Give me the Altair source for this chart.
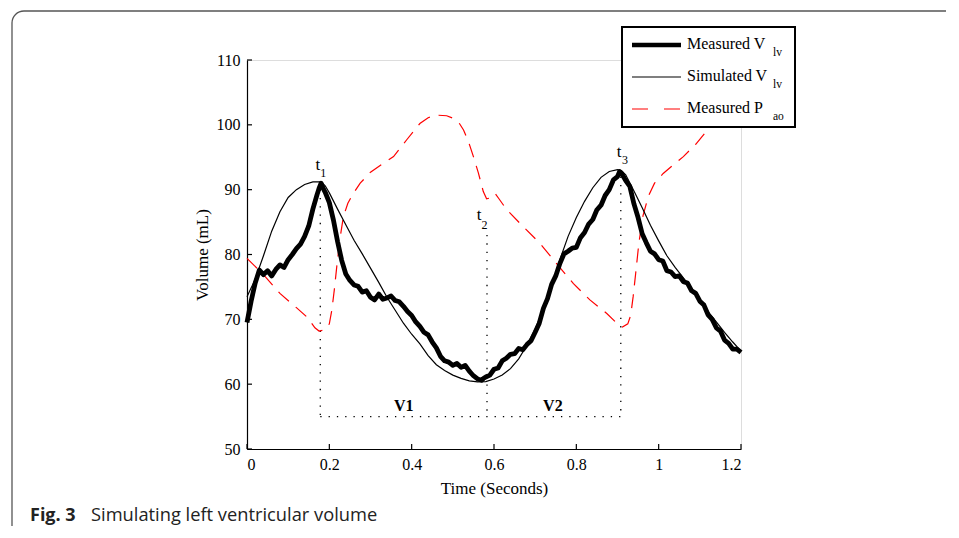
import altair as alt
import pandas as pd

# ---------------- data ----------------
meas_t = [0.00, 0.01, 0.02, 0.03, 0.04, 0.05, 0.06, 0.07, 0.08, 0.09, 0.10, 0.11, 0.12, 0.13, 0.14, 0.15,
          0.16, 0.17, 0.175, 0.18, 0.185, 0.19, 0.20, 0.21, 0.22, 0.23, 0.24, 0.25, 0.26, 0.27, 0.28, 0.29,
          0.30, 0.31, 0.32, 0.33, 0.34, 0.35, 0.36, 0.37, 0.38, 0.39, 0.40, 0.41, 0.42, 0.43, 0.44, 0.45,
          0.46, 0.47, 0.48, 0.49, 0.50, 0.51, 0.52, 0.53, 0.54, 0.55, 0.56, 0.57, 0.575, 0.58, 0.59, 0.60,
          0.61, 0.62, 0.63, 0.64, 0.65, 0.66, 0.67, 0.68, 0.69, 0.70, 0.71, 0.72, 0.73, 0.74, 0.75, 0.76,
          0.77, 0.78, 0.79, 0.80, 0.81, 0.82, 0.83, 0.84, 0.85, 0.86, 0.87, 0.88, 0.89, 0.90, 0.905, 0.91,
          0.92, 0.93, 0.94, 0.95, 0.96, 0.97, 0.98, 0.99, 1.00, 1.01, 1.02, 1.03, 1.04, 1.05, 1.06, 1.07,
          1.08, 1.09, 1.10, 1.11, 1.12, 1.13, 1.14, 1.15, 1.16, 1.17, 1.18, 1.19, 1.20]
meas_v = [69.5, 72.8, 75.6, 77.6, 76.9, 77.5, 76.7, 77.7, 78.4, 78.0, 79.2, 80.0, 80.9, 81.6, 82.8, 84.4,
          87.0, 89.2, 90.2, 91.0, 90.2, 89.6, 88.0, 85.3, 82.0, 79.1, 77.0, 76.0, 75.3, 75.1, 74.2, 74.4,
          73.4, 73.0, 73.9, 73.1, 73.3, 73.6, 72.9, 72.7, 72.0, 71.2, 70.6, 69.6, 68.9, 68.0, 67.6, 66.5,
          65.6, 64.3, 63.6, 63.4, 62.9, 63.2, 62.6, 62.9, 62.0, 61.3, 60.8, 60.6, 60.9, 61.1, 61.4, 62.3,
          62.5, 63.6, 64.0, 64.6, 64.7, 65.5, 65.3, 66.1, 66.7, 68.0, 69.4, 71.7, 73.2, 75.4, 76.7, 78.6,
          80.1, 80.5, 81.0, 81.1, 82.6, 83.4, 84.7, 85.4, 86.9, 87.6, 89.1, 90.0, 91.5, 92.0, 92.8, 92.5,
          91.4, 90.5, 87.8, 85.7, 83.2, 81.8, 80.5, 80.1, 79.2, 79.0, 77.5, 77.3, 76.6, 76.7, 75.8, 75.6,
          74.4, 74.0, 72.8, 72.2, 70.7, 70.0, 68.7, 68.2, 66.8, 66.3, 65.4, 65.4, 64.9]

sim_t = [0.00, 0.02, 0.04, 0.06, 0.08, 0.10, 0.12, 0.14, 0.16, 0.18, 0.19, 0.20, 0.22, 0.24, 0.26, 0.28,
         0.30, 0.32, 0.34, 0.36, 0.38, 0.40, 0.42, 0.44, 0.46, 0.48, 0.50, 0.52, 0.54, 0.56, 0.58, 0.60,
         0.62, 0.64, 0.66, 0.68, 0.70, 0.72, 0.74, 0.76, 0.78, 0.80, 0.82, 0.84, 0.86, 0.88, 0.90, 0.91,
         0.92, 0.94, 0.96, 0.98, 1.00, 1.02, 1.04, 1.06, 1.08, 1.10, 1.12, 1.14, 1.16, 1.18, 1.20]
sim_v = [73.5, 76.2, 79.8, 83.6, 86.6, 88.8, 90.0, 90.8, 91.2, 91.2, 90.6, 89.5, 87.0, 84.6, 82.2, 80.1,
         77.9, 75.7, 73.4, 71.4, 69.4, 67.7, 66.2, 64.4, 63.0, 62.1, 61.4, 60.9, 60.5, 60.35, 60.4, 60.8,
         61.4, 62.4, 63.9, 66.0, 68.5, 71.5, 75.2, 79.2, 82.8, 85.7, 88.2, 90.3, 91.9, 92.8, 93.1, 92.9,
         92.3, 89.8, 87.2, 84.5, 82.1, 79.8, 78.0, 76.4, 74.8, 73.0, 71.2, 69.6, 68.0, 66.5, 65.1]

pao_t = [0.00, 0.04, 0.08, 0.12, 0.145, 0.165, 0.175, 0.19, 0.20, 0.206, 0.212, 0.218, 0.226, 0.234,
         0.245, 0.258, 0.275, 0.30, 0.33, 0.356, 0.388, 0.42, 0.44, 0.461, 0.485, 0.501, 0.515, 0.526,
         0.538, 0.55, 0.562, 0.574, 0.582, 0.59, 0.597, 0.603, 0.612, 0.631, 0.671, 0.712, 0.752, 0.793,
         0.833, 0.874, 0.90, 0.912, 0.925, 0.932, 0.938, 0.944, 0.952, 0.962, 0.975, 0.99, 1.011, 1.035,
         1.06, 1.09, 1.12, 1.15, 1.20]
pao_v = [79.4, 76.9, 74.0, 71.8, 70.4, 68.7, 68.2, 68.4, 69.3, 71.4, 74.5, 78.1, 82.5, 85.8,
         87.9, 89.4, 91.0, 92.7, 94.0, 95.1, 97.7, 100.2, 101.1, 101.5, 101.4, 101.0, 100.3, 99.2,
         97.4, 95.1, 92.6, 89.7, 88.6, 88.7, 89.3, 89.4, 88.6, 86.9, 84.3, 81.7, 78.6, 75.5,
         73.0, 70.9, 69.3, 68.8, 69.3, 70.6, 73.5, 77.0, 81.8, 86.0, 89.0, 91.0, 92.5, 93.8,
         95.1, 97.0, 99.3, 101.5, 105.0]

# dotted guide segments (time instants t1, t2, t3 and the V=55 baseline)
guide_x = [0.178, 0.583, 0.908, 0.178]
guide_x2 = [0.178, 0.583, 0.908, 0.908]
guide_y = [90.0, 83.0, 92.0, 55.0]
guide_y2 = [55.0, 55.0, 55.0, 55.0]

# annotation labels
tlab_text = ["t", "t", "t"]
tlab_x = [0.172, 0.564, 0.904]
tlab_y = [93.8, 86.1, 95.8]
tsub_text = ["1", "2", "3"]
tsub_x = [0.185, 0.577, 0.918]
tsub_y = [92.5, 84.6, 94.5]
vlab_text = ["V1", "V2"]
vlab_x = [0.381, 0.743]
vlab_y = [56.6, 56.6]

x_ticks = [0, 0.2, 0.4, 0.6, 0.8, 1.0, 1.2]
y_ticks = [50, 60, 70, 80, 90, 100, 110]

legend_names = ["Measured V", "Simulated V", "Measured P"]
legend_subs = ["lv", "lv", "ao"]

# ---------------- layout constants ----------------
W, H = 494, 389
SERIF = "Liberation Serif"

xs = alt.Scale(domain=[0, 1.2], nice=False)
ys = alt.Scale(domain=[50, 110], nice=False)

meas_df = pd.DataFrame({"t": meas_t, "v": meas_v})
sim_df = pd.DataFrame({"t": sim_t, "v": sim_v})
pao_df = pd.DataFrame({"t": pao_t, "v": pao_v})
guide_df = pd.DataFrame({"x": guide_x, "x2": guide_x2, "y": guide_y, "y2": guide_y2})
tlab_df = pd.DataFrame({"x": tlab_x, "y": tlab_y, "s": tlab_text})
tsub_df = pd.DataFrame({"x": tsub_x, "y": tsub_y, "s": tsub_text})
vlab_df = pd.DataFrame({"x": vlab_x, "y": vlab_y, "s": vlab_text})
xt_df = pd.DataFrame({"v": x_ticks})
yt_df = pd.DataFrame({"v": y_ticks})
one = pd.DataFrame({"a": [0]})

x_axis = alt.Axis(values=x_ticks, format="~g", tickSize=0, grid=False, domainColor="black",
                  domainWidth=1.2, labelFont=SERIF, labelFontSize=16, labelColor="black",
                  labelPadding=7, title="Time (Seconds)", titleFont=SERIF, titleFontSize=17,
                  titleFontWeight="normal", titleColor="black", titlePadding=8)
y_axis = alt.Axis(values=y_ticks, tickSize=0, grid=False, domainColor="black",
                  domainWidth=1.2, labelFont=SERIF, labelFontSize=16, labelColor="black",
                  labelPadding=7, title="Volume (mL)", titleFont=SERIF, titleFontSize=17,
                  titleFontWeight="normal", titleColor="black", titlePadding=5)

# frame around the figure (rounded top-left corner): top edge, left edge, corner arc
FC = "#555555"
frame_top = alt.Chart(one).mark_rule(color=FC, strokeWidth=1.3).encode(
    x=alt.value(-223), x2=alt.value(760), y=alt.value(-49))
frame_left = alt.Chart(one).mark_rule(color=FC, strokeWidth=1.3).encode(
    x=alt.value(-235), y=alt.value(-37), y2=alt.value(520))
frame_corner = alt.Chart(one).mark_arc(color=FC, radius=12.65, radius2=11.35,
                                       theta=4.7124, theta2=6.2832).encode(
    x=alt.value(-223), y=alt.value(-37))

guides = alt.Chart(guide_df).mark_rule(color="black", strokeWidth=1.3, strokeDash=[1.3, 7]).encode(
    x=alt.X("x:Q", scale=xs, axis=x_axis), x2="x2:Q",
    y=alt.Y("y:Q", scale=ys, axis=y_axis), y2="y2:Q")

pao = alt.Chart(pao_df).mark_line(color="#ff0000", strokeWidth=1.2, strokeDash=[14, 9]).encode(
    x=alt.X("t:Q", scale=xs), y=alt.Y("v:Q", scale=ys), order="t:Q")
sim = alt.Chart(sim_df).mark_line(color="black", strokeWidth=1.2).encode(
    x=alt.X("t:Q", scale=xs), y=alt.Y("v:Q", scale=ys), order="t:Q")
meas = alt.Chart(meas_df).mark_line(color="black", strokeWidth=4.8, strokeJoin="round").encode(
    x=alt.X("t:Q", scale=xs), y=alt.Y("v:Q", scale=ys), order="t:Q")

tlab = alt.Chart(tlab_df).mark_text(font=SERIF, fontSize=17, color="black", baseline="middle").encode(
    x=alt.X("x:Q", scale=xs), y=alt.Y("y:Q", scale=ys), text="s:N")
tsub = alt.Chart(tsub_df).mark_text(font=SERIF, fontSize=12, color="black", baseline="middle").encode(
    x=alt.X("x:Q", scale=xs), y=alt.Y("y:Q", scale=ys), text="s:N")
vlab = alt.Chart(vlab_df).mark_text(font=SERIF, fontSize=16, fontWeight="bold", color="black",
                                    baseline="middle").encode(
    x=alt.X("x:Q", scale=xs), y=alt.Y("y:Q", scale=ys), text="s:N")

xticks = alt.Chart(xt_df).mark_rule(color="black", strokeWidth=1.2).encode(
    x=alt.X("v:Q", scale=xs), y=alt.value(H), y2=alt.value(H - 5))
yticks = alt.Chart(yt_df).mark_rule(color="black", strokeWidth=1.2).encode(
    y=alt.Y("v:Q", scale=ys), x=alt.value(0), x2=alt.value(5))

# legend box (pixel positions relative to plot origin)
LX0, LX1, LY0, LY1 = 375, 548, -33, 67
leg_box = alt.Chart(one).mark_rect(fill="white", stroke="black", strokeWidth=2).encode(
    x=alt.value(LX0), x2=alt.value(LX1), y=alt.value(LY0), y2=alt.value(LY1))
row_y = [-15, 17, 49]
leg_thick = alt.Chart(one).mark_rule(color="black", strokeWidth=4.5).encode(
    x=alt.value(385), x2=alt.value(434), y=alt.value(row_y[0]))
leg_thin = alt.Chart(one).mark_rule(color="black", strokeWidth=1.2).encode(
    x=alt.value(385), x2=alt.value(434), y=alt.value(row_y[1]))
leg_red = alt.Chart(one).mark_rule(color="#ff0000", strokeWidth=1.2, strokeDash=[16, 16]).encode(
    x=alt.value(385), x2=alt.value(434), y=alt.value(row_y[2]))
leg_texts = []
for i in range(3):
    leg_texts.append(alt.Chart(one).mark_text(font=SERIF, fontSize=16, color="black", align="left",
                                              baseline="middle", text=legend_names[i]).encode(
        x=alt.value(440), y=alt.value(row_y[i] - 1)))
    leg_texts.append(alt.Chart(one).mark_text(font=SERIF, fontSize=11.5, color="black", align="left",
                                              baseline="middle", text=legend_subs[i]).encode(
        x=alt.value(526), y=alt.value(row_y[i] + 8)))

cap1 = alt.Chart(one).mark_text(font="Open Sans", fontSize=18, fontWeight="bold", color="#222222",
                                align="left", baseline="alphabetic", text="Fig. 3").encode(
    x=alt.value(-217), y=alt.value(461))
cap2 = alt.Chart(one).mark_text(font="Open Sans", fontSize=18.3, color="#222222",
                                align="left", baseline="alphabetic",
                                text="Simulating left ventricular volume").encode(
    x=alt.value(-156), y=alt.value(461))

chart = alt.layer(
    frame_top, frame_left, frame_corner, guides, pao, sim, meas, tlab, tsub, vlab, xticks, yticks,
    leg_box, leg_thick, leg_thin, leg_red, *leg_texts, cap1, cap2
).properties(
    width=W, height=H,
    autosize=alt.AutoSizeParams(type="none"),
    padding={"left": 239, "top": 52, "right": 205, "bottom": 77},
).configure_view(stroke=None).configure(background="white")

chart.save("out.html", embed_options={"renderer": "svg", "actions": False})
